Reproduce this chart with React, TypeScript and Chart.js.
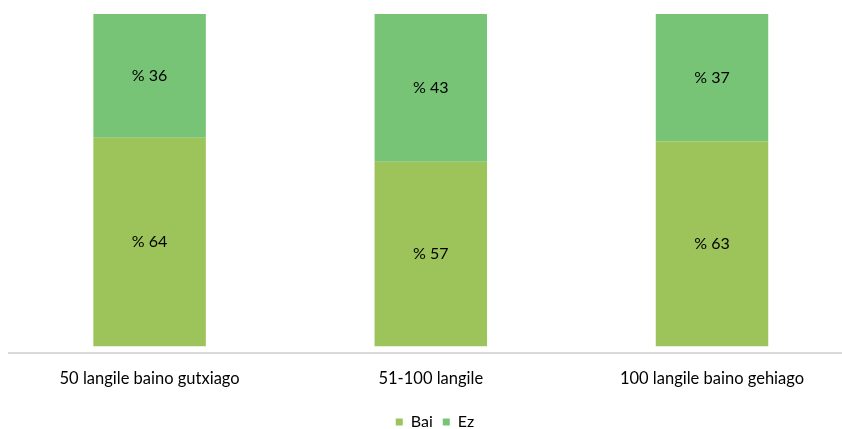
import React, { useEffect, useRef } from "react";
import { Chart, registerables } from "chart.js";

Chart.register(...registerables);

const categories = ["50 langile baino gutxiago", "51-100 langile", "100 langile baino gehiago"];
const baiValues = [64, 57, 63];
const ezValues = [36, 43, 37];
const seriesNames = ["Bai", "Ez"];

const FONT = "Lato, 'Open Sans', sans-serif";

const labelPlugin = {
  id: "segLabels",
  afterDatasetsDraw(chart: any) {
    const ctx = chart.ctx;
    const clipBottom = chart.chartArea.bottom - 6.7;
    ctx.save();
    ctx.font = `16px ${FONT}`;
    ctx.fillStyle = "#000000";
    ctx.textAlign = "center";
    ctx.textBaseline = "middle";
    chart.data.datasets.forEach((ds: any, di: number) => {
      const meta = chart.getDatasetMeta(di);
      meta.data.forEach((el: any, i: number) => {
        const top = Math.min(el.y, el.base);
        const bottom = Math.min(Math.max(el.y, el.base), clipBottom);
        ctx.fillText("% " + ds.data[i], el.x, (top + bottom) / 2);
      });
    });
    ctx.restore();
  },
};

export default function App() {
  const ref = useRef<HTMLCanvasElement | null>(null);
  useEffect(() => {
    if (!ref.current) return;
    const clip = { left: 0, top: 0, right: 0, bottom: -6.7 };
    const chart = new Chart(ref.current, {
      type: "bar",
      data: {
        labels: categories,
        datasets: [
          { label: seriesNames[0], data: baiValues, backgroundColor: "#9CC45A", clip } as any,
          { label: seriesNames[1], data: ezValues, backgroundColor: "#77C476", clip } as any,
        ],
      },
      options: {
        animation: false,
        responsive: true,
        maintainAspectRatio: false,
        layout: { padding: { left: 9, top: 14, right: 0, bottom: 0 } },
        datasets: { bar: { categoryPercentage: 0.4, barPercentage: 1 } },
        plugins: {
          legend: {
            position: "bottom",
            labels: {
              boxWidth: 7,
              boxHeight: 7,
              padding: 10,
              color: "#000000",
              font: { family: FONT, size: 16 },
            },
          },
          tooltip: { enabled: false },
        },
        scales: {
          x: {
            stacked: true,
            grid: { display: false },
            border: { display: true, color: "#D9D9D9", width: 2 },
            ticks: { color: "#000000", font: { family: FONT, size: 16.5 }, padding: 8, maxRotation: 0 },
            afterFit: (s: any) => { s.height = 51; },
          },
          y: {
            stacked: true,
            position: "right",
            min: 1.34,
            max: 100,
            grid: { display: false },
            border: { display: false },
            ticks: { display: false },
            afterFit: (s: any) => { s.width = 8.4; },
          },
        },
      },
      plugins: [labelPlugin],
    });
    return () => chart.destroy();
  }, []);
  return (
    <div style={{ position: "fixed", left: 0, top: 0, width: 842, height: 429, overflow: "hidden", background: "#fff" }}>
      <div style={{ width: 861, height: 440, position: "relative" }}>
        <canvas ref={ref} />
      </div>
    </div>
  );
}
